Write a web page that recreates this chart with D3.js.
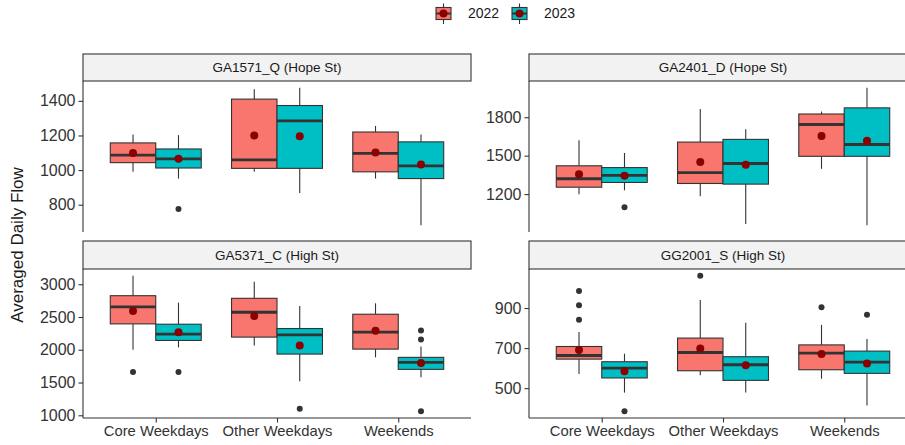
<!DOCTYPE html>
<html><head><meta charset="utf-8">
<script src="https://cdn.jsdelivr.net/npm/d3@7"></script>
<style>body{margin:0;background:#fff}svg{display:block;font-family:"Liberation Sans",Arial,sans-serif}</style>
</head><body><svg id="c" width="905" height="445"></svg>
<script>
// ---------- data ----------
const categories = ["Core Weekdays", "Other Weekdays", "Weekends"];
const years = ["2022", "2023"];
const panelTitles = ["GA1571_Q (Hope St)", "GA2401_D (Hope St)", "GA5371_C (High St)", "GG2001_S (High St)"];
// each box: [lower whisker, Q1, median, Q3, upper whisker, mean]; order: Core22, Core23, Other22, Other23, Wknd22, Wknd23
const statsGA1571 = [[990,1043,1086,1157,1206,1098],[951,1012,1065,1122,1202,1065],[990,1010,1059,1410,1467,1200],[867,1010,1284,1373,1475,1196],[951,990,1096,1220,1255,1102],[682,951,1024,1163,1206,1033]];
const outliersGA1571 = [[],[775],[],[],[],[]];
const statsGA2401 = [[1198,1254,1320,1421,1621,1355],[1230,1291,1347,1407,1521,1343],[1183,1283,1368,1606,1865,1450],[966,1278,1439,1627,1706,1429],[1397,1495,1743,1825,1844,1653],[958,1495,1587,1873,2029,1617]];
const outliersGA2401 = [[],[1098],[],[],[],[]];
const statsGA5371 = [[2000,2395,2653,2825,3129,2593],[2035,2142,2238,2390,2719,2269],[2066,2193,2572,2785,3038,2517],[1519,1934,2228,2324,2669,2066],[1884,2010,2269,2542,2709,2289],[1579,1701,1807,1884,2051,1797]];
const outliersGA5371 = [[1661],[1661],[],[1098],[],[2294,2157,1062]];
const statsGG2001 = [[571,645,663,708,780,690],[478,551,600,632,672,584],[564,587,678,750,940,698],[478,539,617,657,827,615],[547,592,675,716,816,670],[413,574,630,685,746,623]];
const outliersGG2001 = [[985,914,841],[385],[1061],[],[904],[867]];
const ticksGA1571 = [800, 1000, 1200, 1400];
const ticksGA2401 = [1200, 1500, 1800];
const ticksGA5371 = [1000, 1500, 2000, 2500, 3000];
const ticksGG2001 = [500, 700, 900];
const yTitle = "Averaged Daily Flow";

// ---------- layout ----------
const svg = d3.select("#c");
const colorScale = d3.scaleOrdinal().domain(years).range(["#F8766D", "#00BFC4"]);
const panelW = 388;
const cols = [83, 529];
const rows = [{strip: 54, top: 81, bottom: 232}, {strip: 241, top: 269, bottom: 418}];
const panels = [
  {title: panelTitles[0], stats: statsGA1571, outs: outliersGA1571, ticks: ticksGA1571, c: 0, r: 0},
  {title: panelTitles[1], stats: statsGA2401, outs: outliersGA2401, ticks: ticksGA2401, c: 1, r: 0},
  {title: panelTitles[2], stats: statsGA5371, outs: outliersGA5371, ticks: ticksGA5371, c: 0, r: 1},
  {title: panelTitles[3], stats: statsGG2001, outs: outliersGG2001, ticks: ticksGG2001, c: 1, r: 1}
];
const dark = "#333333";
const boxW = 0.375;

panels.forEach(p => {
  const x0 = cols[p.c], row = rows[p.r];
  const g = svg.append("g");
  const all = p.stats.flatMap((s, i) => [s[0], s[4], ...p.outs[i]]);
  const lo = d3.min(all), hi = d3.max(all), pad = (hi - lo) * 0.05;
  const y = d3.scaleLinear().domain([lo - pad, hi + pad]).range([row.bottom, row.top]);
  const x = d3.scaleLinear().domain([0.4, 3.6]).range([x0, x0 + panelW]);

  // strip
  g.append("rect").attr("x", x0).attr("y", row.strip).attr("width", panelW).attr("height", row.top - row.strip)
    .attr("fill", "#f2f2f2").attr("stroke", dark).attr("stroke-width", 1.1);
  g.append("text").attr("x", x0 + panelW / 2).attr("y", (row.strip + row.top) / 2).attr("dy", "0.35em")
    .attr("text-anchor", "middle").attr("font-size", 13.5).attr("fill", "#1a1a1a").text(p.title);

  // boxes
  p.stats.forEach((s, i) => {
    const ci = Math.floor(i / 2), yi = i % 2;
    const cx = (ci + 1) + (yi === 0 ? -boxW / 2 : boxW / 2);
    const xl = x(cx - boxW / 2), xr = x(cx + boxW / 2), xc = x(cx);
    const bg = g.append("g");
    bg.append("line").attr("x1", xc).attr("x2", xc).attr("y1", y(s[4])).attr("y2", y(s[3])).attr("stroke", dark).attr("stroke-width", 1.1);
    bg.append("line").attr("x1", xc).attr("x2", xc).attr("y1", y(s[1])).attr("y2", y(s[0])).attr("stroke", dark).attr("stroke-width", 1.1);
    bg.append("rect").attr("x", xl).attr("y", y(s[3])).attr("width", xr - xl).attr("height", y(s[1]) - y(s[3]))
      .attr("fill", colorScale(years[yi])).attr("stroke", dark).attr("stroke-width", 1.1);
    bg.append("line").attr("x1", xl).attr("x2", xr).attr("y1", y(s[2])).attr("y2", y(s[2])).attr("stroke", dark).attr("stroke-width", 2.8);
    p.outs[i].forEach(o => {
      bg.append("circle").attr("cx", xc).attr("cy", y(o)).attr("r", 3).attr("fill", dark);
    });
    bg.append("circle").attr("cx", xc).attr("cy", y(s[5])).attr("r", 4).attr("fill", "#8B0000");
  });

  // y axis
  const ya = g.append("g").attr("transform", `translate(${x0},0)`)
    .call(d3.axisLeft(y).tickValues(p.ticks).tickSize(4.5).tickPadding(3).tickFormat(d3.format("d")));
  ya.select(".domain").attr("d", `M0,${row.top}V${row.bottom}`).attr("stroke", dark).attr("stroke-width", 1.1);
  ya.selectAll(".tick line").attr("stroke", dark).attr("stroke-width", 1.1);
  ya.selectAll(".tick text").attr("font-size", 16).attr("fill", "#333").attr("font-family", "Liberation Sans, Arial, sans-serif");

  // x axis on bottom row
  if (p.r === 1) {
    const xb = d3.scalePoint().domain(categories).range([x(1), x(3)]);
    const xa = g.append("g").attr("transform", `translate(0,${row.bottom})`)
      .call(d3.axisBottom(xb).tickSize(4.5).tickPadding(3));
    xa.select(".domain").attr("d", `M${x0},0H${x0 + panelW}`).attr("stroke", dark).attr("stroke-width", 1.1);
    xa.selectAll(".tick line").attr("stroke", dark).attr("stroke-width", 1.1);
    xa.selectAll(".tick text").attr("font-size", 14.8).attr("fill", "#333").attr("font-family", "Liberation Sans, Arial, sans-serif");
  }
});

// y title
svg.append("text").attr("transform", "translate(17,245) rotate(-90)").attr("text-anchor", "middle")
  .attr("dy", "0.35em").attr("font-size", 17).attr("fill", "#1a1a1a").text(yTitle);

// legend
const leg = svg.append("g");
const legX = [436, 512];
years.forEach((yr, i) => {
  const lx = legX[i], w = 15, cxk = lx + w / 2;
  const lg = leg.append("g");
  lg.append("line").attr("x1", cxk).attr("x2", cxk).attr("y1", 3.5).attr("y2", 24).attr("stroke", dark).attr("stroke-width", 1.1);
  lg.append("rect").attr("x", lx).attr("y", 7.5).attr("width", w).attr("height", 12).attr("fill", colorScale(yr)).attr("stroke", dark).attr("stroke-width", 1.1);
  lg.append("line").attr("x1", lx).attr("x2", lx + w).attr("y1", 13.5).attr("y2", 13.5).attr("stroke", dark).attr("stroke-width", 2);
  lg.append("circle").attr("cx", cxk).attr("cy", 13.5).attr("r", 4).attr("fill", "#8B0000");
  lg.append("text").attr("x", lx + w + 17).attr("y", 13.5).attr("dy", "0.35em").attr("font-size", 14).attr("fill", "#1a1a1a").text(yr);
});
</script></body></html>
